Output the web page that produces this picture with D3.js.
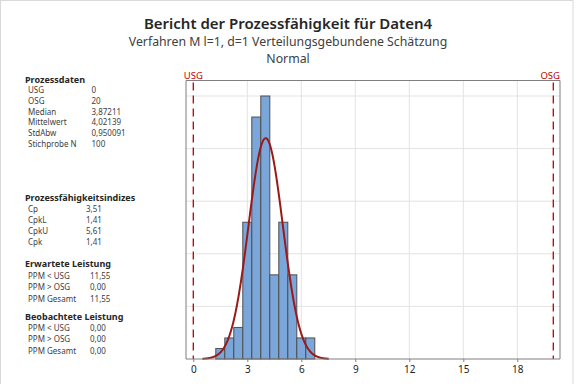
<!DOCTYPE html>
<html>
<head>
<meta charset="utf-8">
<style>
  body { margin: 0; background: #fff; }
  svg text { font-family: "Segoe UI", "Noto Sans", "Open Sans", sans-serif; }
</style>
<script src="https://d3js.org/d3.v7.min.js"></script>
</head>
<body>
<svg id="chart" width="576" height="384"></svg>
<script>
// histogram bins (centers, width 0.5) and counts
var binCenters = [1.5, 2.0, 2.5, 3.0, 3.5, 4.0, 4.5, 5.0, 5.5, 6.0, 6.5];
var binCounts  = [1, 2, 3, 13, 23, 25, 8, 13, 8, 2, 2];
var binWidth = 0.5;
var usg = 0, osg = 20;
var mean = 4.02139, sd = 0.950091, n = 100;
var xTicks = [0, 3, 6, 9, 12, 15, 18];
var yGrid = [5, 10, 15, 20, 25];

// side panel tables
var prozessdaten = [["USG", "0"], ["OSG", "20"], ["Median", "3,87211"], ["Mittelwert", "4,02139"], ["StdAbw", "0,950091"], ["Stichprobe N", "100"]];
var indizes = [["Cp", "3,51"], ["CpkL", "1,41"], ["CpkU", "5,61"], ["Cpk", "1,41"]];
var erwartet = [["PPM < USG", "11,55"], ["PPM > OSG", "0,00"], ["PPM Gesamt", "11,55"]];
var beobachtet = [["PPM < USG", "0,00"], ["PPM > OSG", "0,00"], ["PPM Gesamt", "0,00"]];

(function() {
const svg = d3.select("#chart");

// outer border
svg.append("rect")
  .attr("x", 0.5).attr("y", 0.5)
  .attr("width", 572.5).attr("height", 400)
  .attr("fill", "none").attr("stroke", "#d9d9d9");

// titles
svg.append("text").text("Bericht der Prozessfähigkeit für Daten4")
  .attr("x", 288).attr("y", 29).attr("text-anchor", "middle")
  .attr("font-size", 15).attr("font-weight", 600).attr("fill", "#262626");
svg.append("text").text("Verfahren M l=1, d=1 Verteilungsgebundene Schätzung")
  .attr("x", 288).attr("y", 46).attr("text-anchor", "middle")
  .attr("font-size", 12.3).attr("fill", "#404040");
svg.append("text").text("Normal")
  .attr("x", 288).attr("y", 63).attr("text-anchor", "middle")
  .attr("font-size", 12.3).attr("fill", "#404040");

// plot area
var pLeft = 186, pRight = 560, pTop = 80.5, pBottom = 359;
var x = d3.scaleLinear().domain([usg, osg]).range([193.3, 553.3]);
var y = d3.scaleLinear().domain([0, 25]).range([pBottom, 96]);

var grid = svg.append("g");
grid.selectAll("line.h").data(yGrid).enter().append("line")
  .attr("x1", pLeft).attr("x2", pRight)
  .attr("y1", d => y(d)).attr("y2", d => y(d))
  .attr("stroke", "#e3e3e3").attr("stroke-width", 1);
grid.selectAll("line.v").data(xTicks.filter(d => d > 0)).enter().append("line")
  .attr("x1", d => x(d)).attr("x2", d => x(d))
  .attr("y1", pTop).attr("y2", pBottom)
  .attr("stroke", "#e3e3e3").attr("stroke-width", 1);

// bars
svg.append("g").selectAll("rect").data(binCenters).enter().append("rect")
  .attr("x", d => x(d - binWidth / 2))
  .attr("width", d => x(d + binWidth / 2) - x(d - binWidth / 2))
  .attr("y", (d, i) => y(binCounts[i]))
  .attr("height", (d, i) => pBottom - y(binCounts[i]))
  .attr("fill", "#7ba6da").attr("stroke", "#4f4f4f").attr("stroke-width", 1);

// fitted normal curve (scaled to counts)
var curveX = d3.range(mean - 3.7 * sd, mean + 3.7 * sd, 0.02);
var dens = function(v) {
  return n * binWidth * Math.exp(-0.5 * Math.pow((v - mean) / sd, 2)) / (sd * Math.sqrt(2 * Math.PI));
};
svg.append("path")
  .datum(curveX)
  .attr("d", d3.line().x(d => x(d)).y(d => y(dens(d))).curve(d3.curveBasis))
  .attr("fill", "none").attr("stroke", "#9a1a1a").attr("stroke-width", 2);

// spec limits
[[usg, "USG", "middle", 0], [osg, "OSG", "end", pRight - x(osg)]].forEach(function(s) {
  svg.append("line")
    .attr("x1", x(s[0])).attr("x2", x(s[0]))
    .attr("y1", pTop + 2).attr("y2", pBottom)
    .attr("stroke", "#c00000").attr("stroke-width", 1.3)
    .attr("stroke-dasharray", "8,5");
  svg.append("text").text(s[1])
    .attr("x", x(s[0]) + s[3]).attr("y", 79)
    .attr("text-anchor", s[2])
    .attr("font-size", 9.5).attr("fill", "#c00000");
});

// frame
svg.append("path")
  .attr("d", "M" + pLeft + "," + pTop + "H" + pRight + "V" + pBottom + "H" + pLeft + "Z")
  .attr("fill", "none").attr("stroke", "#7f7f7f").attr("stroke-width", 1);

// x axis
var xAxis = svg.append("g")
  .attr("transform", "translate(0," + pBottom + ")")
  .call(d3.axisBottom(x).tickValues(xTicks).tickSize(3).tickSizeOuter(0).tickPadding(4));
xAxis.select(".domain").remove();
xAxis.selectAll("line").attr("stroke", "#7f7f7f");
xAxis.selectAll("text").attr("font-size", 10).attr("fill", "#222")
  .style("font-family", "'Segoe UI', 'Noto Sans', sans-serif");

// side panel
function panel(title, rows, y0, step, valX) {
  svg.append("text").text(title)
    .attr("x", 25).attr("y", y0).attr("font-size", 9).attr("font-weight", 700).attr("fill", "#262626");
  rows.forEach(function(r, i) {
    svg.append("text").text(r[0]).attr("x", 28).attr("y", y0 + step * (i + 1))
      .attr("font-size", 8).attr("fill", "#404040");
    svg.append("text").text(r[1]).attr("x", valX).attr("y", y0 + step * (i + 1))
      .attr("font-size", 8).attr("fill", "#404040");
  });
}
panel("Prozessdaten", prozessdaten, 82.5, 10.7, 91.5);
panel("Prozessfähigkeitsindizes", indizes, 200.5, 11.2, 86);
panel("Erwartete Leistung", erwartet, 267, 11.5, 90);
panel("Beobachtete Leistung", beobachtet, 320, 11.2, 90);
})();
</script>
</body>
</html>
